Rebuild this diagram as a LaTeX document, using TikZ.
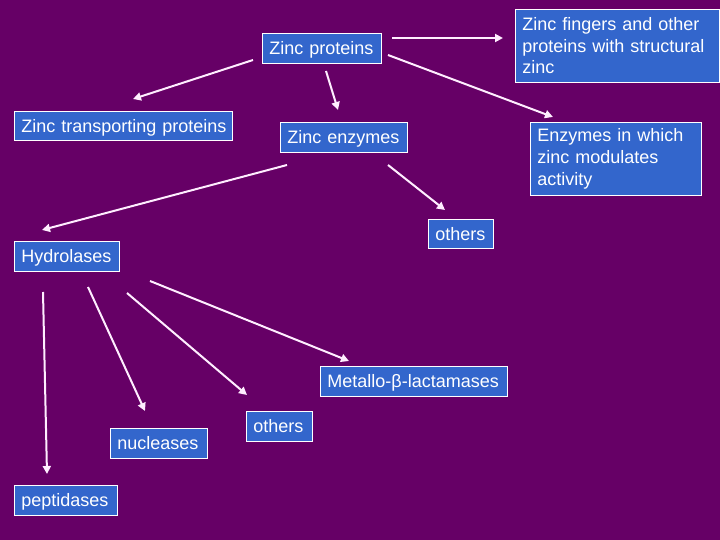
\documentclass[tikz,border=0pt]{standalone}
\usepackage{fontspec}
\setmainfont{Liberation Sans}
\usetikzlibrary{arrows.meta}
\definecolor{bgpurple}{HTML}{660066}
\definecolor{boxblue}{HTML}{3366CC}
\definecolor{arrowwhite}{HTML}{FFEEFF}
\tikzset{
  box/.style={draw=white, line width=0.8pt, fill=boxblue, text=white,
    font=\fontsize{18}{21.6}\selectfont, inner xsep=7pt, inner ysep=0pt,
    align=left, anchor=north west},
  oneline/.style={text height=15pt, text depth=2pt},
  arr/.style={draw=arrowwhite, line width=2pt, -{Triangle[length=8pt,width=8pt]}}
}
\begin{document}
\begin{tikzpicture}[x=1pt,y=-1pt]
\fill[bgpurple] (0,0) rectangle (720,540);
\useasboundingbox (0,0) rectangle (720,540);

\node[box,oneline,text width=105pt,minimum height=30pt] (zp) at (262,33) {\mbox{Zinc proteins}};
\node[box,oneline,text width=204pt,minimum height=29pt] (zt) at (14,111) {\mbox{Zinc transporting proteins}};
\node[box,oneline,text width=113pt,minimum height=30pt] (ze) at (280,122) {\mbox{Zinc enzymes}};
\node[box,text width=190pt,minimum height=73pt] (zf) at (515,9) {Zinc fingers and other proteins with structural zinc};
\node[box,text width=157pt,minimum height=73pt] (em) at (530,122) {Enzymes in which zinc modulates activity};
\node[box,oneline,text width=51pt,minimum height=29pt] (o1) at (428,219) {\mbox{others}};
\node[box,oneline,text width=91pt,minimum height=30pt] (hy) at (14,241) {\mbox{Hydrolases}};
\node[box,oneline,text width=173pt,minimum height=30pt] (me) at (320,366) {\mbox{Metallo-β-lactamases}};
\node[box,oneline,text width=83pt,minimum height=30pt] (nu) at (110,428) {\mbox{nucleases}};
\node[box,oneline,text width=52pt,minimum height=30pt] (o2) at (246,411) {\mbox{others}};
\node[box,oneline,text width=89pt,minimum height=30pt] (pe) at (14,485) {\mbox{peptidases}};

\draw[arr] ([shift={(-9,27)}]zp.north west) -- ([shift={(119,-12)}]zt.north west);
\draw[arr] ([shift={(64,38)}]zp.north west) -- ([shift={(58,-12)}]ze.north west);
\draw[arr] ([shift={(130,5)}]zp.north west) -- ([shift={(-12,29)}]zf.north west);
\draw[arr] ([shift={(126,22)}]zp.north west) -- ([shift={(23,-5)}]em.north west);
\draw[arr] ([shift={(7,43)}]ze.north west) -- ([shift={(28,-11)}]hy.north west);
\draw[arr] ([shift={(108,43)}]ze.north west) -- ([shift={(17,-9)}]o1.north west);
\draw[arr] ([shift={(29,51)}]hy.north west) -- ([shift={(33,-11)}]pe.north west);
\draw[arr] ([shift={(74,46)}]hy.north west) -- ([shift={(35,-17)}]nu.north west);
\draw[arr] ([shift={(113,52)}]hy.north west) -- ([shift={(1,-16)}]o2.north west);
\draw[arr] ([shift={(136,40)}]hy.north west) -- ([shift={(29,-5)}]me.north west);
\end{tikzpicture}
\end{document}
